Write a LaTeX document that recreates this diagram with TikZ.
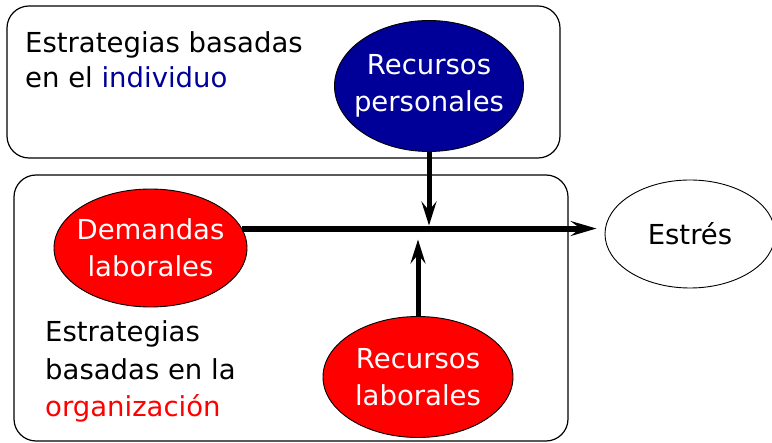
\documentclass[tikz,border=0pt]{standalone}
\usepackage{fontspec}
\setmainfont{DejaVu Sans}
\usetikzlibrary{shapes.geometric,arrows.meta}
\definecolor{dblue}{RGB}{0,0,153}
\definecolor{bred}{RGB}{255,0,0}
\begin{document}
\begin{tikzpicture}[x=1pt,y=-1pt,
  box/.style={draw=black,line width=1.2pt,rounded corners=22pt},
  oval/.style={ellipse,draw=black,line width=0.9pt,inner sep=0pt},
  intext/.style={text=white,align=center,inner sep=0pt,font=\fontsize{27.5}{36.5}\selectfont},
  lbl/.style={anchor=base west,align=left,inner sep=0pt},
  arr/.style={line width=6pt,-{Stealth[length=26pt,width=15pt,inset=10pt]}},
  varr/.style={line width=5pt,-{Stealth[length=24pt,width=15pt,inset=9pt]}}
]
\useasboundingbox (0,0) rectangle (772,443);
% boxes
\draw[box] (7,6) rectangle (560,158);
\draw[box] (14,175) rectangle (568,441);
% ellipses
\node[oval,fill=dblue,minimum width=189pt,minimum height=131pt] (rp) at (429,86) {};
\node[intext] (rpt) at (rp) {Recursos\\personales};
\node[oval,fill=bred,minimum width=193pt,minimum height=118pt] (dem) at (150.5,248) {};
\node[intext] (demt) at (dem) {Demandas\\laborales};
\node[oval,fill=bred,minimum width=190pt,minimum height=121pt] (rl) at (418,377) {};
\node[intext] (rlt) at (rl) {Recursos\\laborales};
\node[oval,fill=white,minimum width=170pt,minimum height=108pt] (est) at (690,234) {};
\node[intext,text=black] (estt) at (est) {Estrés};
% texts (base = last line's baseline)
\node[lbl,font=\fontsize{27.5}{35}\selectfont] (t1) at (25,88) {Estrategias basadas\\en el \textcolor{dblue}{individuo}};
\node[lbl,font=\fontsize{27.5}{37.5}\selectfont] (t2) at (45,416.7) {Estrategias\\basadas en la\\\textcolor{bred}{organización}};
% arrows
\coordinate (j) at (dem.12 -| rp.south);
\draw[arr,shorten >=8pt] (dem.12) -- (dem.12 -| est.west);
\draw[varr] (rp.south) -- ([yshift=3pt]j);
\draw[varr] (rl.north) -- ([yshift=-11pt]rl.north |- j);
\end{tikzpicture}
\end{document}
